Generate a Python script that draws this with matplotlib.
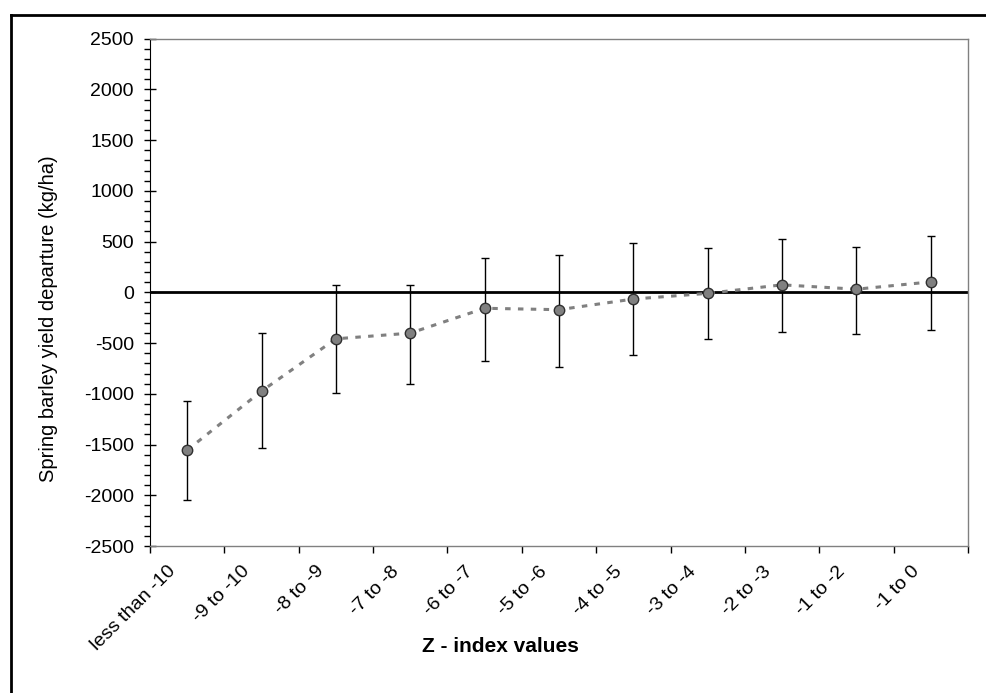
import numpy as np
import matplotlib.pyplot as plt
from matplotlib.lines import Line2D
from matplotlib.transforms import ScaledTranslation

plt.rcParams['font.family'] = ['Liberation Sans', 'DejaVu Sans']
plt.rcParams['axes.unicode_minus'] = False

# Z-index classes and spring barley yield departures (kg/ha)
categories = ['less than -10', '-9 to -10', '-8 to -9', '-7 to -8', '-6 to -7',
              '-5 to -6', '-4 to -5', '-3 to -4', '-2 to -3', '-1 to -2', '-1 to 0']
mean_values = [-1555, -974, -458, -402, -157, -171, -66, -10, 74, 31, 103]
upper_values = [-1073, -404, 77, 77, 338, 371, 489, 433, 527, 451, 559]
lower_values = [-2047, -1535, -994, -905, -676, -738, -620, -460, -386, -411, -369]

x = np.arange(len(categories))
mean = np.array(mean_values)
yerr = [mean - np.array(lower_values), np.array(upper_values) - mean]

fig = plt.figure(figsize=(9.86, 6.93), dpi=100)
ax = fig.add_axes([0.1521, 0.2121, 0.8296, 0.7321])

# zero line
ax.axhline(0, color='black', linewidth=2, zorder=2)

# dashed connecting line
ax.plot(x, mean, linestyle=(0, (1.8, 2.4)), color='#808080', linewidth=2.2, zorder=3)

# error bars and points
ax.errorbar(x, mean, yerr=yerr, fmt='none', ecolor='black', elinewidth=1,
            capsize=3, capthick=1, zorder=4)
ax.plot(x, mean, 'o', markersize=7.5, markerfacecolor='#808080',
        markeredgecolor='#303030', markeredgewidth=1, zorder=5)

ax.set_xlim(-0.5, len(categories) - 0.5)
ax.set_ylim(-2500, 2500)

# y ticks
ax.set_yticks(np.arange(-2500, 2501, 500))
ax.set_yticks(np.arange(-2500, 2501, 100), minor=True)
ax.tick_params(axis='y', which='major', direction='inout', length=9, width=1,
               labelsize=14, pad=7)
ax.tick_params(axis='y', which='minor', direction='out', length=4.3, width=1)

# x ticks: boundaries as ticks, labels at category centres
ax.set_xticks(np.arange(-0.5, len(categories), 1.0))
ax.set_xticklabels([])
ax.tick_params(axis='x', which='major', direction='out', length=5, width=1,
               color='black')
ax.set_xticks(x, minor=True)
ax.set_xticklabels(categories, minor=True, rotation=45, ha='right',
                   rotation_mode='anchor', fontsize=14)
ax.tick_params(axis='x', which='minor', length=0, pad=12)
shift = ScaledTranslation(-0.2, 0, fig.dpi_scale_trans)
for lab in ax.get_xticklabels(minor=True):
    lab.set_transform(lab.get_transform() + shift)

for side in ['top', 'right', 'bottom']:
    ax.spines[side].set_color('#808080')
    ax.spines[side].set_linewidth(1)
ax.spines['left'].set_color('black')

ax.set_ylabel('Spring barley yield departure (kg/ha)', fontsize=14.5)
ax.yaxis.set_label_coords(-0.113, 0.449)
ax.set_xlabel('Z - index values', fontsize=15, fontweight='bold',
              family=['Liberation Sans Narrow', 'Liberation Sans'])
ax.xaxis.set_label_coords(0.428, -0.179)

# outer chart border (only top and left visible in frame)
fig.add_artist(Line2D([0.0112, 0.0112], [0.9784, 0.0], color='black', linewidth=2,
                      transform=fig.transFigure))
fig.add_artist(Line2D([0.0112, 1.0], [0.9784, 0.9784], color='black', linewidth=2,
                      transform=fig.transFigure))

plt.savefig('out.png', dpi=100)
